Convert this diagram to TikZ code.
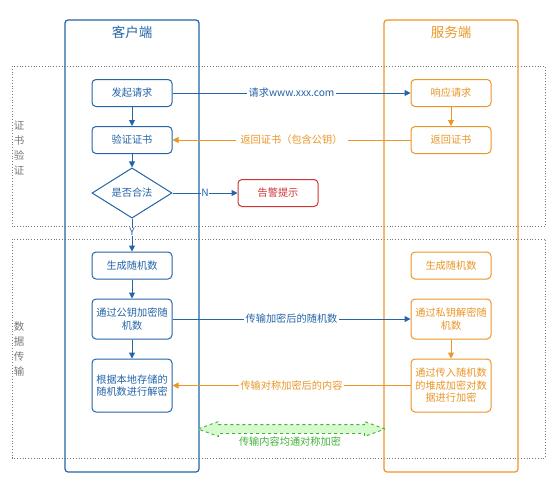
\documentclass[tikz,border=0pt]{standalone}
\usepackage{fontspec}
\setmainfont{Noto Sans CJK SC}
\usetikzlibrary{shapes.geometric,shapes.arrows,arrows.meta}
\definecolor{cblue}{RGB}{36,100,168}
\definecolor{corange}{RGB}{234,150,40}
\definecolor{cred}{RGB}{206,52,52}
\definecolor{cgreen}{RGB}{64,176,56}
\definecolor{cgfill}{RGB}{214,250,206}
\definecolor{cgray}{RGB}{120,120,120}
\begin{document}
\begin{tikzpicture}[x=1pt,y=-1pt,
 font=\fontsize{10.2}{12.5}\selectfont,
 cbox/.style={draw=cblue,text=cblue,fill=white,rounded corners=4pt,line width=1pt,minimum width=80pt,minimum height=27pt,align=center,inner sep=1pt},
 sbox/.style={cbox,draw=corange,text=corange},
 col/.style={draw,rounded corners=3pt,line width=1.2pt},
 grp/.style={draw=cgray,dotted,line width=0.8pt},
 barr/.style={draw=cblue,line width=1pt,-{Triangle[length=6pt,width=6pt]}},
 oarr/.style={barr,draw=corange},
 lbl/.style={fill=white,inner sep=1.5pt},
 side/.style={text=cgray,align=center,font=\fontsize{10.5}{15}\selectfont}
]
\path[use as bounding box] (0,0) rectangle (554,488);
% groups
\draw[grp] (12,66) rectangle (545,226);
\draw[grp] (12,239) rectangle (545,458);
\node[side] (g1) at (19,148) {证\\书\\验\\证};
\node[side] (g2) at (19,349) {数\\据\\传\\输};
% columns
\draw[col,draw=cblue] (65,20) rectangle (199,472);
\draw[col,draw=corange] (384,20) rectangle (518,472);
\node[text=cblue,font=\fontsize{13.5}{15}\selectfont] (ct) at (132,32) {客户端};
\node[text=corange,font=\fontsize{13.5}{15}\selectfont] (st) at (451,32) {服务端};
% client nodes
\node[cbox] (c1) at (132,93) {发起请求};
\node[cbox] (c2) at (132,140) {验证证书};
\node[diamond,draw=cblue,text=cblue,fill=white,line width=1pt,minimum width=80pt,minimum height=38pt,inner sep=0pt] (c3) at (132,193) {是否合法};
\node[cbox,draw=cred,text=cred] (al) at (278,193) {告警提示};
\node[cbox] (c4) at (132,265.5) {生成随机数};
\node[cbox,minimum height=40pt] (c5) at (132,319) {通过公钥加密随\\机数};
\node[cbox,minimum height=53pt] (c6) at (132,385.5) {根据本地存储的\\随机数进行解密};
% server nodes
\node[sbox] (s1) at (451,93) {响应请求};
\node[sbox] (s2) at (451,140) {返回证书};
\node[sbox] (s4) at (451,265.5) {生成随机数};
\node[sbox,minimum height=40pt] (s5) at (451,319) {通过私钥解密随\\机数};
\node[sbox,minimum height=53pt] (s6) at (451,385.5) {通过传入随机数\\的堆成加密对数\\据进行加密};
% vertical arrows
\draw[barr] (c1) -- (c2);
\draw[barr] (c2) -- (c3);
\draw[barr] (c3) -- node[lbl,text=cblue,pos=0.4,inner sep=0.5pt] {Y} (c4);
\draw[barr] (c4) -- (c5);
\draw[barr] (c5) -- (c6);
\draw[oarr] (s1) -- (s2);
\draw[oarr] (s5) -- (s6);
% horizontal arrows
\draw[barr] (c1) -- node[lbl,text=cblue] {请求www.xxx.com} (s1);
\draw[oarr] (s2) -- node[lbl,text=corange,inner xsep=5pt] {返回证书（包含公钥）} (c2);
\draw[barr] (c3) -- node[lbl,text=cblue,inner sep=0.5pt] {N} (al);
\draw[barr] (c5) -- node[lbl,text=cblue] {传输加密后的随机数} (s5);
\draw[oarr] (s6) -- node[lbl,text=corange] {传输对称加密后的内容} (c6);
% green double arrow
\node[double arrow,draw=cgreen,dashed,fill=cgfill,line width=0.9pt,minimum height=187pt,minimum width=14pt,inner sep=4pt,double arrow head extend=3pt,double arrow tip angle=40] (ga) at (291.5,429) {};
\node[text=cgreen] (gl) at (290,442) {传输内容均通对称加密};
\end{tikzpicture}
\end{document}
